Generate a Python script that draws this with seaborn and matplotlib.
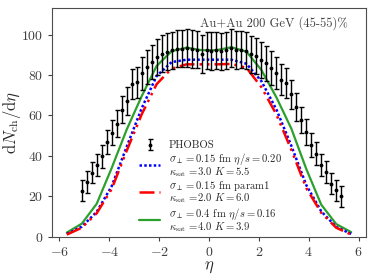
import matplotlib
matplotlib.use("Agg")
import matplotlib.pyplot as plt
import seaborn as sns
import pandas as pd
from matplotlib.lines import Line2D

# PHOBOS data
eta_data = [-5.1, -4.9, -4.7, -4.5, -4.3, -4.1, -3.9, -3.7, -3.5, -3.3, -3.1, -2.9, -2.7,
            -2.5, -2.3, -2.1, -1.9, -1.7, -1.5, -1.3, -1.1, -0.9, -0.7, -0.5, -0.3, -0.1,
            0.1, 0.3, 0.5, 0.7, 0.9, 1.1, 1.3, 1.5, 1.7, 1.9, 2.1, 2.3, 2.5, 2.7, 2.9,
            3.1, 3.3, 3.5, 3.7, 3.9, 4.1, 4.3, 4.5, 4.7, 4.9, 5.1, 5.3]
dndeta = [22.7, 27.0, 31.7, 35.6, 39.8, 47.0, 51.5, 56.0, 62.9, 67.0, 75.7, 76.4, 80.8,
          84.0, 86.4, 88.8, 90.6, 91.5, 92.3, 93.1, 93.1, 93.4, 93.0, 92.6, 90.3, 92.2,
          92.0, 92.2, 91.7, 92.2, 93.3, 92.5, 92.6, 92.0, 90.3, 89.5, 87.6, 85.8, 83.6, 80.9, 77.7,
          76.2, 70.4, 64.2, 57.6, 51.8, 45.5, 41.1, 35.3, 32.0, 26.2, 22.9, 19.9]
dndeta_err = [5.2, 5.3, 5.4, 5.5, 5.7, 6.0, 6.2, 6.5, 6.8, 7.0, 7.4, 7.6, 8.0,
              8.3, 8.6, 8.9, 9.0, 9.1, 9.2, 9.3, 9.3, 9.3, 9.3, 9.3, 9.3, 9.3,
              9.3, 9.3, 9.3, 9.3, 9.3, 9.3, 9.3, 9.2, 9.1, 9.0, 8.9, 8.6, 8.3, 8.0, 7.6,
              7.4, 7.0, 6.8, 6.5, 6.2, 6.0, 5.7, 5.5, 5.4, 5.3, 5.2, 5.1]

# theory curves
eta_th = [-5.7, -5.1, -4.5, -3.9, -3.3, -2.7, -2.1, -1.5, -0.9, -0.3,
          0.3, 0.9, 1.5, 2.1, 2.7, 3.3, 3.9, 4.5, 5.1, 5.7]
blue_vals = [1.3, 4.9, 12.3, 25.0, 44.5, 63.5, 79.5, 86.4, 87.6, 87.6,
             87.6, 87.6, 85.6, 77.0, 63.0, 45.0, 25.5, 12.5, 4.8, 1.3]
red_vals = [1.0, 4.4, 11.6, 23.6, 42.5, 60.5, 75.5, 83.2, 85.3, 85.3,
            85.3, 85.5, 83.6, 74.0, 60.5, 43.0, 24.0, 11.8, 4.4, 1.0]
green_vals = [2.0, 6.4, 16.3, 34.0, 53.0, 69.5, 84.5, 91.8, 93.6, 92.3,
              92.3, 93.8, 91.6, 82.5, 69.0, 53.5, 33.5, 15.8, 6.2, 2.2]

labels = [
    r"$\sigma_\perp=0.15$ fm $\eta/s=0.20$" + "\n" + r"$\kappa_{\rm sat}$ =3.0 $K=5.5$",
    r"$\sigma_\perp=0.15$ fm param1" + "\n" + r"$\kappa_{\rm sat}$ =2.0 $K=6.0$",
    r"$\sigma_\perp=0.4$ fm $\eta/s=0.16$" + "\n" + r"$\kappa_{\rm sat}$ =4.0 $K=3.9$",
]

sns.set_style("ticks")
plt.rcParams["font.family"] = ["cmr10", "DejaVu Serif"]
plt.rcParams["mathtext.fontset"] = "cm"
plt.rcParams["axes.formatter.use_mathtext"] = True
plt.rcParams["axes.unicode_minus"] = True

fig = plt.figure(figsize=(3.74, 2.8), dpi=100)
ax = fig.add_axes([0.14, 0.155, 0.839, 0.815])

df = pd.DataFrame({"eta": eta_th, "b": blue_vals, "r": red_vals, "g": green_vals})

blue_ls = (0, (1, 0.9))
red_ls = (0, (6, 2, 1, 2, 1, 2))
sns.lineplot(data=df, x="eta", y="g", ax=ax, color="#2ca02c", lw=1.6, sort=False,
             estimator=None)
sns.lineplot(data=df, x="eta", y="b", ax=ax, color="blue", lw=1.8, sort=False,
             estimator=None, linestyle=blue_ls)
sns.lineplot(data=df, x="eta", y="r", ax=ax, color="red", lw=1.8, sort=False,
             estimator=None, linestyle=red_ls)
eb = ax.errorbar(eta_data, dndeta, yerr=dndeta_err, fmt=".", color="black", ms=3.5,
                 elinewidth=1.0, capsize=1.8, capthick=1.0)

handles = [eb,
           Line2D([], [], color="blue", lw=1.8, linestyle=blue_ls),
           Line2D([], [], color="red", lw=1.8, linestyle=red_ls),
           Line2D([], [], color="#2ca02c", lw=1.6)]
leg = ax.legend(handles, ["PHOBOS"] + labels, loc="lower left", bbox_to_anchor=(0.262, -0.006),
                frameon=False, fontsize=7.7, handlelength=2.0, labelspacing=0.06,
                handletextpad=0.8, borderaxespad=0.0, borderpad=0.4)
for t in leg.get_texts():
    t.set_linespacing(0.8)

ax.text(0.943, 0.965, "Au+Au 200 GeV (45-55)%", transform=ax.transAxes,
        ha="right", va="top", fontsize=9, color=".25")

ax.set_xlim(-6.28, 6.3)
ax.set_ylim(0, 113)
ax.set_xticks([-6, -4, -2, 0, 2, 4, 6])
ax.set_yticks([0, 20, 40, 60, 80, 100])
ax.tick_params(labelsize=10, length=3, width=0.8, colors=".25")
for s in ax.spines.values():
    s.set_color(".3")
    s.set_linewidth(0.8)
ax.set_xlabel(r"$\eta$", fontsize=12, labelpad=1)
ax.set_ylabel(r"$\mathrm{d}N_{\mathrm{ch}}/\mathrm{d}\eta$", fontsize=12)
ax.yaxis.set_label_coords(-0.095, 0.5)

fig.savefig("out.png", dpi=100)
